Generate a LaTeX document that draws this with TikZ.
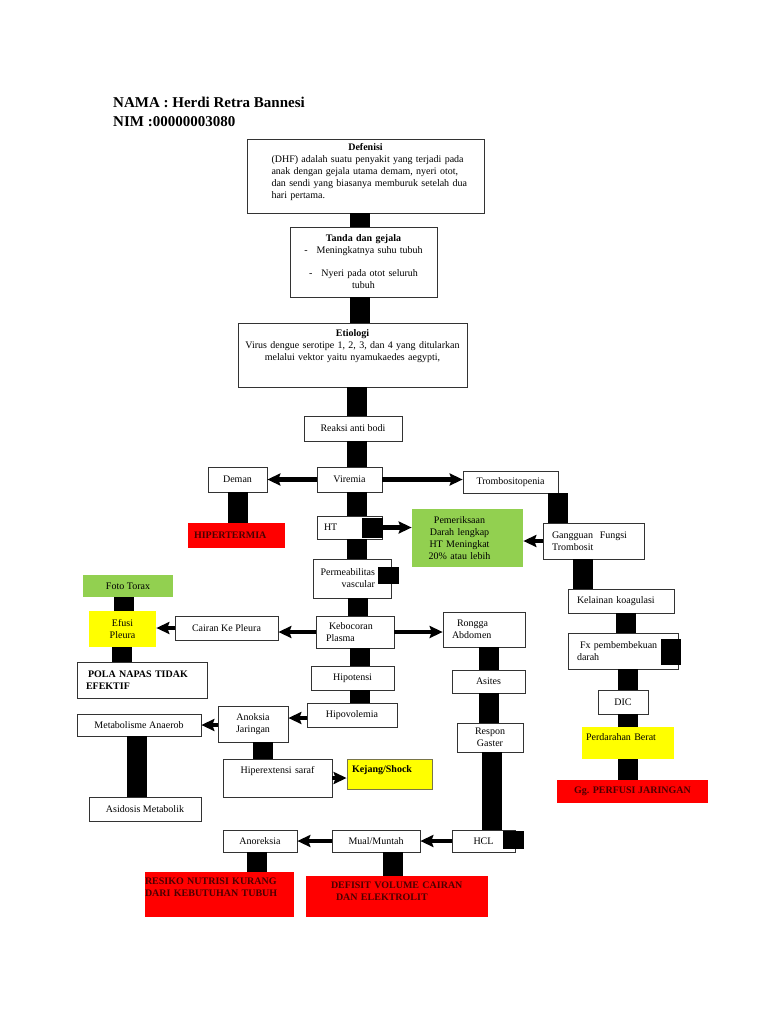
\documentclass[tikz,border=0pt]{standalone}
\usepackage{fontspec}
\setmainfont{Liberation Serif}
\usepackage{xcolor}
\usepackage{tikz}
\usetikzlibrary{arrows.meta}
\definecolor{hijau}{HTML}{92D050}
\definecolor{kuning}{HTML}{FFFF00}
\definecolor{merah}{HTML}{FF0000}
\definecolor{teksmerah}{rgb}{0.3,0,0}
\tikzset{
  kotak/.style      ={rectangle, draw=black!80, line width=0.7pt, fill=white,
                      inner sep=3pt, align=center,
                      font=\fontsize{10}{12}\selectfont},
  kotakhijau/.style ={kotak, draw=none, fill=hijau},
  kotakkuning/.style={kotak, draw=none, fill=kuning},
  kotakmerah/.style ={kotak, draw=none, fill=merah, text=teksmerah,
                      font=\fontsize{10}{12}\selectfont\bfseries},
  tebal/.style      ={font=\fontsize{10}{12}\selectfont\bfseries},
  blok/.style       ={rectangle, fill=black, draw=black, inner sep=0pt},
  ukuran/.style 2 args={minimum width=#1pt, minimum height=#2pt},
  judul/.style      ={inner sep=0pt, font=\fontsize{15}{18}\selectfont\bfseries},
  panah/.style      ={line width=4.5pt, -{Stealth[length=13pt,width=12pt,inset=2pt]}},
  batang/.style     ={line width=20pt, black}
}
% thick black bar from the bottom of #1 down to the top of #2
\newcommand{\batang}[3]{\draw[batang] ([xshift=#3]#1.south) -- ([xshift=#3]#1.south |- #2.north);}

\begin{document}
\begin{tikzpicture}[x=1pt, y=-1pt]
  \fill[white] (0,0) rectangle (768,1024);
  \useasboundingbox (0,0) rectangle (768,1024);

  \node[judul, anchor=base west] (nama) at (113,108) {NAMA : Herdi Retra Bannesi};
  \node[judul, anchor=base west] (nim)  at (113,127) {NIM :00000003080};

  % main column
  \node[kotak, ukuran={237}{74}, text width=210pt, align=left, text depth=58pt] (def) at (365.5,176)
    {\hfill\textbf{Defenisi}\hfill\null\\
     \hspace*{11pt}(DHF) adalah suatu penyakit yang terjadi pada\\
     \hspace*{11pt}anak dengan gejala utama demam, nyeri otot,\\
     \hspace*{11pt}dan sendi yang biasanya memburuk setelah dua\\
     \hspace*{11pt}hari pertama.};
  \node[kotak, ukuran={147}{70}, text width=140pt] (tanda) at (363.5,262)
    {\textbf{Tanda dan gejala}\\-\hspace{9pt}Meningkatnya suhu tubuh\\[11pt]-\hspace{9pt}Nyeri pada otot seluruh\\tubuh};
  \node[kotak, ukuran={229}{64}, text width=222pt, text depth=44pt] (etio) at (352.5,355)
    {\textbf{Etiologi}\\Virus dengue serotipe 1, 2, 3, dan 4 yang ditularkan\\melalui vektor yaitu nyamukaedes aegypti,};
  \node[kotak, ukuran={98}{25}] (reaksi)  at (353,428.5) {Reaksi anti bodi};
  \node[kotak, ukuran={65}{25}] (viremia) at (349.5,479.5) {Viremia};
  \node[kotak, ukuran={59}{25}] (demam)   at (237.5,479.5) {Deman};
  \node[kotak, ukuran={95}{22}] (trombo)  at (510.5,482) {Trombositopenia};
  \node[kotakmerah, ukuran={97}{25}, text width=85pt, align=left] (hiper) at (236.5,535.5) {HIPERTERMIA};
  \node[kotak, ukuran={65}{23}, text width=51pt, align=left] (ht) at (349.5,527.5) {HT};
  \node[blok, ukuran={20}{19}] (htblok) at (372,527.5) {};
  \node[kotakhijau, ukuran={111}{58}, text width=100pt] (periksa) at (467.5,538)
    {Pemeriksaan\hspace*{16pt}\mbox{}\\Darah lengkap\hspace*{16pt}\mbox{}\\HT Meningkat\hspace*{16pt}\mbox{}\\20\% atau lebih\hspace*{16pt}\mbox{}};
  \node[kotak, ukuran={101}{36}, text width=83pt, align=left] (gangguan) at (593.5,541)
    {Gangguan\ \ Fungsi\\Trombosit};
  \node[kotak, ukuran={78}{39}, text width=66pt, align=right] (perm) at (352,578.5)
    {Permeabilitas\hspace*{10pt}\mbox{}\\vascular\hspace*{10pt}\mbox{}};
  \node[blok, ukuran={20}{16}] (permblok) at (388,575) {};

  % right column
  \node[kotak, ukuran={106}{24}, text width=88pt, align=left] (kelainan) at (621,601) {Kelainan koagulasi};
  \node[kotak, ukuran={110}{36}, text width=92pt, align=left] (fx) at (623,651)
    {\hspace*{3pt}Fx pembembekuan\\darah};
  \node[blok, ukuran={19}{25}] (fxblok) at (670.5,651.5) {};
  \node[kotak, ukuran={50}{24}] (dic) at (623,702) {DIC};
  \node[kotakkuning, ukuran={92}{32}, text width=84pt, align=left, text depth=12.5pt] (darah) at (628,743)
    {Perdarahan Berat};
  \node[kotakmerah, ukuran={151}{23}] (perfusi) at (632.5,791.5) {Gg. PERFUSI JARINGAN};

  % left side
  \node[kotakhijau, ukuran={90}{22}] (foto) at (128,586) {Foto Torax};
  \node[kotakkuning, ukuran={67}{36}, text width=60pt] (efusi) at (122.5,629) {Efusi\\Pleura};
  \node[kotak, ukuran={103}{24}] (cairan) at (226.5,628) {Cairan Ke Pleura};
  \node[kotak, tebal, ukuran={130}{36}, text width=112pt, align=left] (pola) at (142,680)
    {\hspace*{2pt}POLA NAPAS TIDAK\\EFEKTIF};
  \node[kotak, ukuran={78}{32}, text width=58pt, align=left] (bocor) at (355,632)
    {\hspace*{3pt}Kebocoran\\Plasma};
  \node[kotak, ukuran={82}{35}, text width=64pt, align=left] (rongga) at (484,629.5)
    {\hspace*{5pt}Rongga\\Abdomen};
  \node[kotak, ukuran={83}{24}] (hipotensi) at (352.5,678) {Hipotensi};
  \node[kotak, ukuran={73}{23}] (asites)    at (488.5,681.5) {Asites};
  \node[kotak, ukuran={90}{24}] (hipovol)   at (352,715) {Hipovolemia};
  \node[kotak, ukuran={70}{36}, text width=62pt] (anoksia) at (253,724) {Anoksia\\Jaringan};
  \node[kotak, ukuran={124}{22}] (metab)    at (139,725) {Metabolisme Anaerob};
  \node[kotak, ukuran={112}{24}] (asidosis) at (145,809) {Asidosis Metabolik};
  \node[kotak, ukuran={109}{38}, text width=100pt, text depth=16.5pt] (saraf) at (277.5,778)
    {Hiperextensi saraf};
  \node[kotakkuning, tebal, draw=black!60!yellow, line width=0.8pt, ukuran={85}{30}, text width=75pt,
        align=left, text depth=10.5pt] (kejang) at (389.5,774) {Kejang/Shock};
  \node[kotak, ukuran={66}{29}, text width=60pt] (respon) at (490,737.5) {Respon\\Gaster};

  % bottom row
  \node[kotak, ukuran={63}{22}] (hcl) at (483.5,841) {HCL};
  \node[blok, ukuran={20}{17}] (hclblok) at (513,839.5) {};
  \node[kotak, ukuran={88}{22}] (mual) at (376,841) {Mual/Muntah};
  \node[kotak, ukuran={74}{22}] (anoreksia) at (260,841) {Anoreksia};
  \node[kotakmerah, ukuran={149}{45}, text width=149pt, inner xsep=0pt, align=left, text depth=27.5pt]
    (resiko) at (219.5,894.5) {RESIKO NUTRISI KURANG\\DARI KEBUTUHAN TUBUH};
  \node[kotakmerah, ukuran={182}{41}, text width=132pt, align=left, text depth=23.5pt]
    (defisit) at (397,896.5) {DEFISIT VOLUME CAIRAN\\\hspace*{5pt}DAN ELEKTROLIT};

  % bars
  \batang{def}{tanda}{-5.5pt}
  \batang{tanda}{etio}{-3.5pt}
  \batang{etio}{reaksi}{4.5pt}
  \batang{reaksi}{viremia}{4pt}
  \batang{viremia}{ht}{7.5pt}
  \batang{ht}{perm}{7.5pt}
  \batang{perm}{bocor}{5.5pt}
  \batang{bocor}{hipotensi}{4.5pt}
  \batang{hipotensi}{hipovol}{7.5pt}
  \batang{demam}{hiper}{0pt}
  \batang{trombo}{gangguan}{47.5pt}
  \batang{gangguan}{kelainan}{-10.5pt}
  \batang{kelainan}{fx}{5pt}
  \batang{fx}{dic}{5pt}
  \batang{dic}{darah}{5pt}
  \batang{darah}{perfusi}{0pt}
  \batang{foto}{efusi}{-4.5pt}
  \batang{efusi}{pola}{-0.5pt}
  \batang{rongga}{asites}{5pt}
  \batang{asites}{respon}{0.5pt}
  \batang{respon}{hcl}{2pt}
  \batang{metab}{asidosis}{-2pt}
  \batang{anoksia}{saraf}{9.5pt}
  \batang{anoreksia}{resiko}{-3pt}
  \batang{mual}{defisit}{16.5pt}

  % arrows
  \draw[panah] (viremia.west) -- (demam.east);
  \draw[panah] (viremia.east) -- (viremia.east -| trombo.west);
  \draw[panah] (htblok.east) -- (htblok.east -| periksa.west);
  \draw[panah] (gangguan.west) -- (gangguan.west -| periksa.east);
  \draw[panah] (bocor.west) -- (bocor.west -| cairan.east);
  \draw[panah] (cairan.west) -- (cairan.west -| efusi.east);
  \draw[panah] (bocor.east) -- (bocor.east -| rongga.west);
  \draw[panah] ([yshift=-3pt]hipovol.west) -- ([yshift=-3pt]hipovol.west -| anoksia.east);
  \draw[panah] (anoksia.west |- metab.east) -- (metab.east);
  \draw[panah] (saraf.east) -- (saraf.east -| kejang.west);
  \draw[panah] (hcl.west) -- (mual.east);
  \draw[panah] (mual.west) -- (anoreksia.east);
\end{tikzpicture}
\end{document}
